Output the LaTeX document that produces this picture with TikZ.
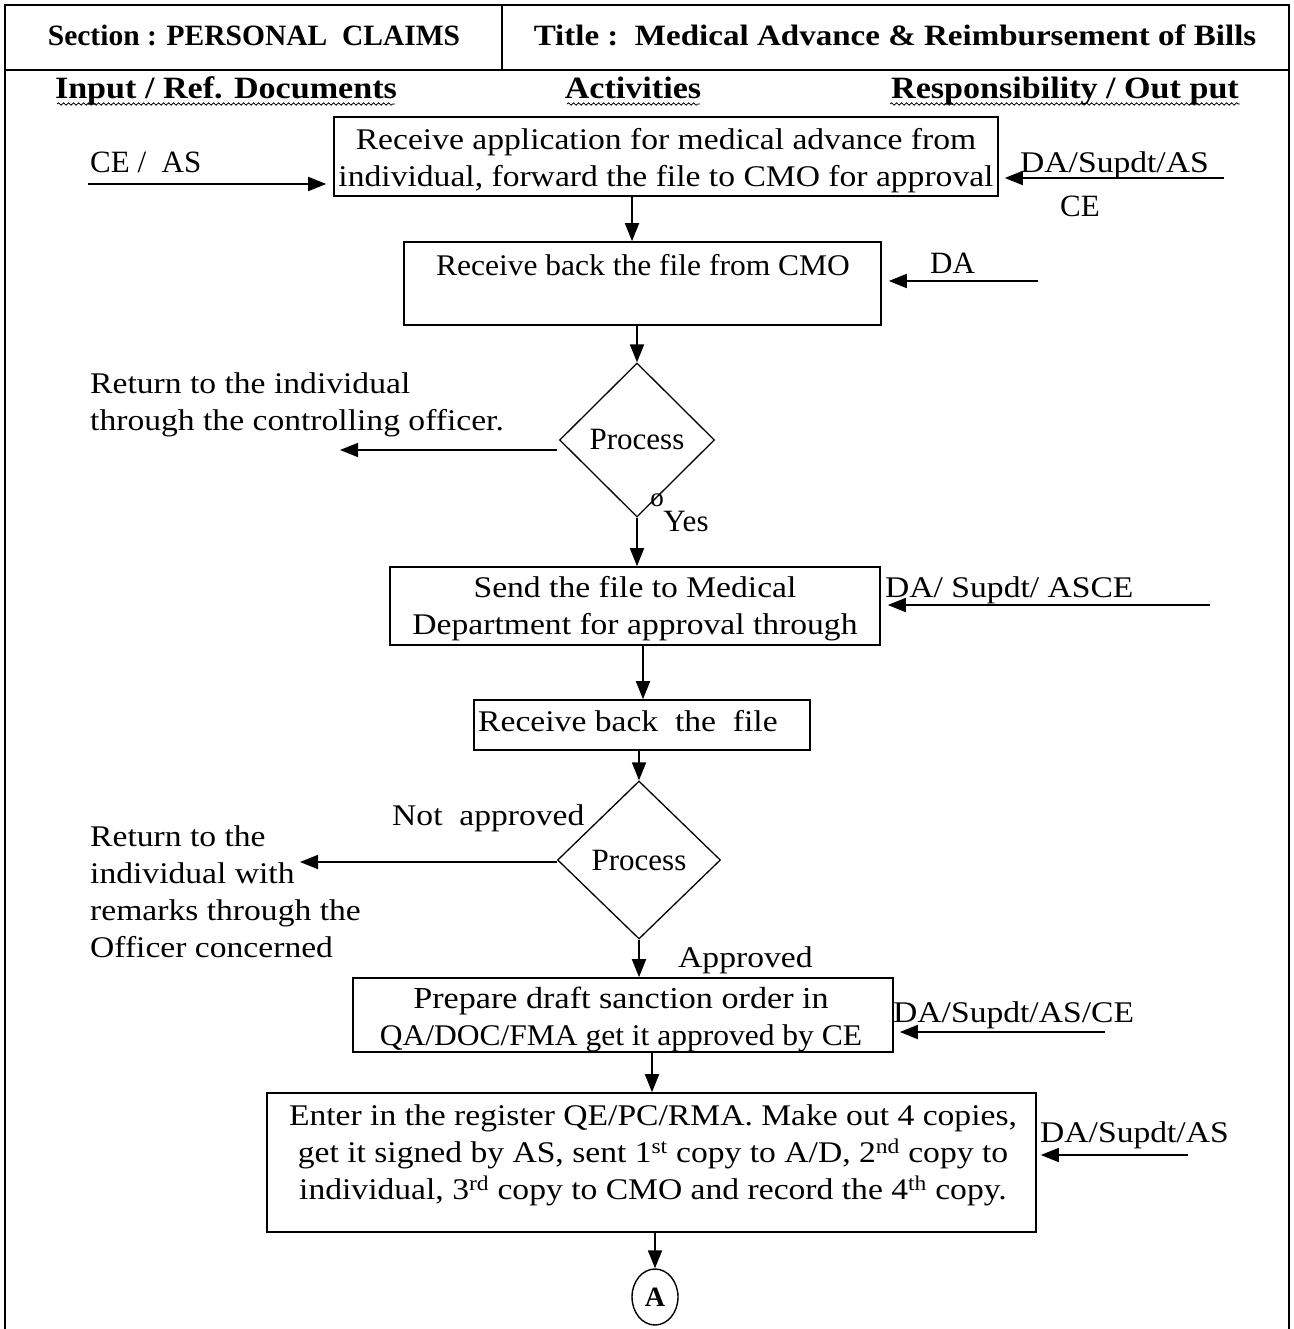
\documentclass[tikz,border=0pt]{standalone}
\usepackage{fontspec}
\setmainfont{Liberation Serif}
% wider cuts of the serif for the running text
\newfontfamily\widefont[FakeStretch=1.12]{Liberation Serif}
\newfontfamily\midfont[FakeStretch=1.05]{Liberation Serif}
\newfontfamily\headfont[FakeStretch=1.10]{Liberation Serif}
\usetikzlibrary{arrows.meta,shapes.geometric,decorations.pathmorphing}
\begin{document}
\begin{tikzpicture}[x=1pt,y=-1pt,
  box/.style={draw,line width=1.6pt,inner sep=0pt},
  dia/.style={draw,diamond,aspect=1,line width=1.3pt,inner sep=0pt,font=\fontsize{31}{36}\selectfont},
  arr/.style={line width=1.8pt,-{Triangle[length=18pt,width=14pt]}},
  txt/.style={font=\widefont\fontsize{30}{37}\selectfont,inner sep=0pt,align=center},
  lbl/.style={font=\fontsize{31}{36}\selectfont,inner sep=0pt,anchor=west},
  wlbl/.style={font=\widefont\fontsize{30}{36}\selectfont,inner sep=0pt,anchor=west},
  hdr/.style={font=\bfseries\fontsize{29.5}{34}\selectfont,inner sep=0pt,anchor=base},
  colhd/.style={font=\headfont\bfseries\fontsize{31}{36}\selectfont,inner sep=0pt,anchor=base},
  wavy/.style={line width=0.8pt,decorate,decoration={snake,amplitude=1.2pt,segment length=5pt}}
]
\fill[white] (0,0) rectangle (1293,1329);
\useasboundingbox (0,0) rectangle (1293,1329);

% frame and header row
\draw[line width=1.8pt] (5,1329) -- (5,5) -- (1289,5) -- (1289,1329);
\draw[line width=1.8pt] (5,70) -- (1289,70);
\draw[line width=1.8pt] (502,5) -- (502,70);
\node[hdr] (sec) at (254,46) {Section : PERSONAL\ \ CLAIMS};
\node[hdr,font=\widefont\bfseries\fontsize{29.5}{34}\selectfont] (ttl) at (895,46)
  {Title :\ \ Medical Advance \& Reimbursement of Bills};

% column headings
\node[colhd] (h1) at (226,99) {Input / Ref. Documents};
\node[colhd] (h2) at (633,99) {Activities};
\node[colhd] (h3) at (1065,99) {Responsibility / Out put};
\draw[wavy] (57,104) -- (395,104);
\draw[wavy] (567,104) -- (700,104);
\draw[wavy] (890,104) -- (1240,104);

% activity boxes
\node[box,minimum width=664pt,minimum height=79pt] (b1) at (666,156.5) {};
\node[txt] (t1) at (666,161)
  {Receive application for medical advance from\\individual, forward the file to CMO for approval};
\node[box,minimum width=477pt,minimum height=83pt] (b2) at (642.5,283.5) {};
\node[txt,font=\midfont\fontsize{30}{37}\selectfont] (t2) at (643,265) {Receive back the file from CMO};
\node[box,minimum width=490pt,minimum height=78pt] (b3) at (635,606) {};
\node[txt] (t3) at (635,609) {Send the file to Medical\\Department for approval through};
\node[box,minimum width=336pt,minimum height=50pt] (b4) at (642,725) {};
\node[txt,anchor=west] (t4) at (478,721) {Receive back\ \ the\ \ file};
\node[box,minimum width=540pt,minimum height=74pt] (b5) at (623,1015) {};
\node[txt] (t5) at (621,1019)
  {{\fontsize{30.5}{37}\selectfont Prepare draft sanction order in}\\
   {\midfont QA/DOC/FMA get it approved by CE}};
\node[box,minimum width=769pt,minimum height=139pt] (b6) at (651.5,1162.5) {};
\node[txt] (t6) at (653,1155)
  {Enter in the register QE/PC/RMA. Make out 4 copies,\\
   get it signed by AS, sent 1\textsuperscript{st} copy to A/D, 2\textsuperscript{nd} copy to\\
   individual, 3\textsuperscript{rd} copy to CMO and record the 4\textsuperscript{th} copy.};

% decisions
\node[dia,minimum width=155pt,minimum height=154pt] (d1) at (637,440) {Process};
\node[dia,minimum width=163pt,minimum height=158pt] (d2) at (639,860) {Process};

% connector A
\node[draw,ellipse,line width=1.4pt,minimum width=46pt,minimum height=56pt,inner sep=0pt,
      font=\bfseries\fontsize{28}{32}\selectfont] (A) at (655,1297) {A};

% vertical flow
\coordinate (x1) at (632,0);
\coordinate (x3) at (643,0);
\coordinate (x5) at (652,0);
\draw[arr] (b1.south -| x1) -- (b2.north -| x1);
\draw[arr] (b2.south -| d1.north) -- (d1.north);
\draw[arr] (d1.south) -- (b3.north -| d1.south);
\draw[arr] (b3.south -| x3) -- (b4.north -| x3);
\draw[arr] (b4.south -| d2.north) -- (d2.north);
\draw[arr] (d2.south) -- (b5.north -| d2.south);
\draw[arr] (b5.south -| x5) -- (b6.north -| x5);
\draw[arr] (b6.south -| A.north) -- (A.north);

% inputs on the left
\coordinate (in1) at (88,184);
\draw[arr,shorten >=7pt] (in1) -- (b1.west |- in1);
\node[lbl] (lin1) at (90,162) {CE\ /\ \ AS};

% responsibilities on the right
\coordinate (r1) at (1224,178);
\draw[arr,shorten >=6pt] (r1) -- (b1.east |- r1);
\node[lbl,font=\widefont\fontsize{30}{36}\selectfont] (lr1) at (1020,165) {DA/Supdt/AS};
\node[lbl] (lr1b) at (1060,206) {CE};
\coordinate (r2) at (1038,281);
\draw[arr,shorten >=7pt] (r2) -- (b2.east |- r2);
\node[lbl] (lr2) at (930,263) {DA};
\coordinate (r3) at (1210,605);
\draw[arr,shorten >=7pt] (r3) -- (b3.east |- r3);
\node[wlbl] (lr3) at (885,590) {DA/ Supdt/ ASCE};
\coordinate (r5) at (1105,1032);
\draw[arr,shorten >=6pt] (r5) -- (b5.east |- r5);
\node[wlbl] (lr5) at (893,1015) {DA/Supdt/AS/CE};
\coordinate (r6) at (1188,1155);
\draw[arr,shorten >=4pt] (r6) -- (b6.east |- r6);
\node[wlbl] (lr6) at (1040,1135) {DA/Supdt/AS};

% returns on the left
\coordinate (o1) at (340,450);
\draw[arr] ([xshift=-2pt]d1.west |- o1) -- (o1);
\node[txt,anchor=north west,align=left] (ret1) at (90,372)
  {Return to the individual\\through the controlling officer.};
\node[lbl,anchor=center,font=\fontsize{27}{30}\selectfont] (oo) at (657,500) {o};
\node[lbl,anchor=center] (yes) at (686,521) {Yes};

\coordinate (o2) at (300,862);
\draw[arr] (d2.west |- o2) -- (o2);
\node[txt,anchor=north west,align=left] (ret2) at (90,825)
  {Return to the\\individual with\\remarks through the\\Officer concerned};
\node[wlbl] (na) at (392,818) {Not\ \ approved};
\node[wlbl] (ap) at (678,960) {Approved};
\end{tikzpicture}
\end{document}
